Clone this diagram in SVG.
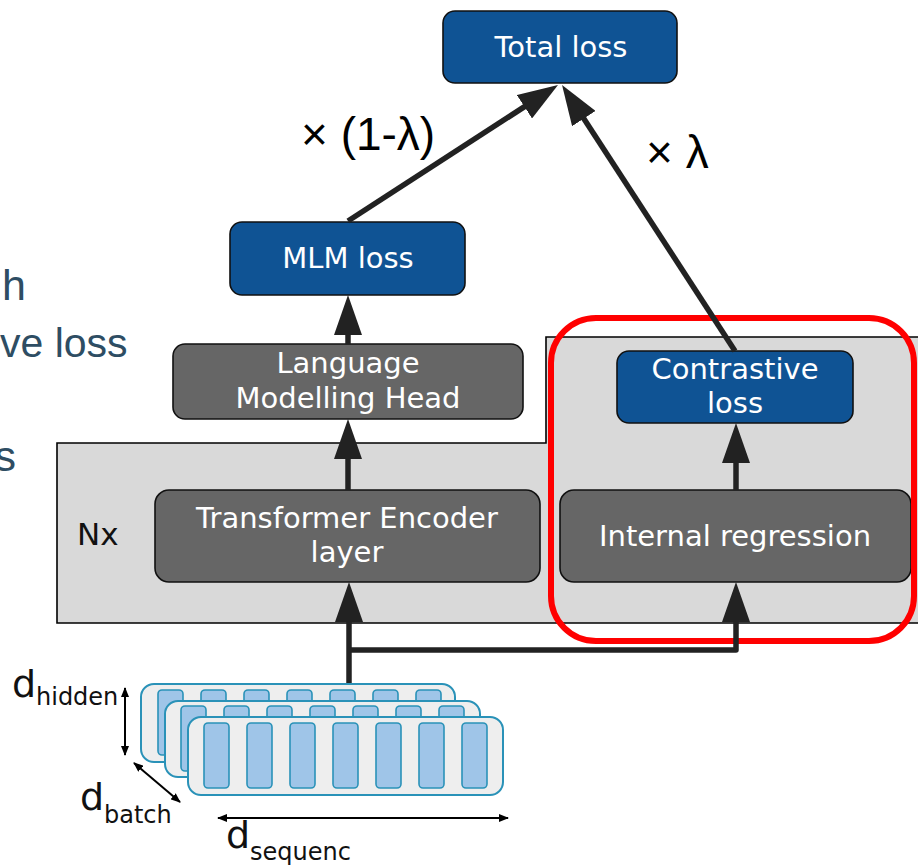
<svg xmlns="http://www.w3.org/2000/svg" width="918" height="868" viewBox="0 0 918 868">
<defs>
<style>
.blue{fill:#0f5394;stroke:#111;stroke-width:1.6}
.gray{fill:#666666;stroke:#111;stroke-width:1.6}
.lbl{font-family:"DejaVu Sans",sans-serif;font-size:29px;fill:#fff;text-anchor:middle}
.conn{fill:none;stroke:#222;stroke-width:5.5;stroke-linejoin:round}
.dim{fill:none;stroke:#000;stroke-width:2}
.t{fill:#eeeeee;stroke:#2a92b8;stroke-width:2}
.b{fill:#9fc5e8;stroke:#2a92b8;stroke-width:1.6}
.side{font-family:"Liberation Sans",Arial,sans-serif;font-size:43px;fill:#2e4d63}
.w{font-family:"Liberation Sans",Arial,sans-serif;font-size:46px;fill:#000}
.d{font-family:"DejaVu Sans",sans-serif;fill:#111}
</style>
<marker id="ah" viewBox="0 0 40 28" refX="30" refY="14" markerWidth="40" markerHeight="28" markerUnits="userSpaceOnUse" orient="auto">
<path d="M0,0 L40,14 L0,28 Z" fill="#222"/>
</marker>
<marker id="sa" viewBox="0 0 10 8" refX="9" refY="4" markerWidth="10" markerHeight="8" markerUnits="userSpaceOnUse" orient="auto-start-reverse">
<path d="M0,0 L10,4 L0,8 Z" fill="#000"/>
</marker>
</defs>

<text class="side" x="26" y="300" text-anchor="end">h</text>
<text class="side" x="0" y="357" style="font-size:41px">ve loss</text>
<text class="side" x="16" y="471" text-anchor="end">s</text>

<path id="panel" d="M57,443 H546 V337 H930 V623 H57 Z" fill="#d9d9d9" stroke="#000" stroke-width="1.6"/>
<text x="77" y="545" style="font-family:'DejaVu Sans',sans-serif;font-size:31px;fill:#111">Nx</text>

<g id="total-loss"><rect class="blue" x="443" y="11" width="234" height="72" rx="12"/><text class="lbl" x="561" y="57">Total loss</text></g>
<g id="mlm-loss"><rect class="blue" x="230" y="222" width="235" height="73" rx="12"/><text class="lbl" x="348" y="268">MLM loss</text></g>
<g id="lm-head"><rect class="gray" x="173" y="344" width="350" height="75" rx="12"/><text class="lbl" x="348" y="373">Language</text><text class="lbl" x="348" y="408">Modelling Head</text></g>
<g id="contrastive-loss"><rect class="blue" x="617" y="351" width="236" height="72" rx="12"/><text class="lbl" x="735" y="379">Contrastive</text><text class="lbl" x="735" y="413">loss</text></g>
<g id="transformer"><rect class="gray" x="155" y="490" width="385" height="92" rx="14"/><text class="lbl" x="347" y="528">Transformer Encoder</text><text class="lbl" x="347" y="562">layer</text></g>
<g id="internal-regression"><rect class="gray" x="560" y="490" width="351" height="92" rx="14"/><text class="lbl" x="735" y="546">Internal regression</text></g>

<rect id="highlight" x="551" y="318" width="363" height="323" rx="45" fill="none" stroke="#ff0000" stroke-width="6"/>

<g id="connectors">
<line class="conn" x1="348" y1="221" x2="549.6" y2="90.4" marker-end="url(#ah)"/>
<line class="conn" x1="735" y1="351" x2="567.5" y2="93.4" marker-end="url(#ah)"/>
<line class="conn" x1="348" y1="344" x2="348" y2="305" marker-end="url(#ah)"/>
<line class="conn" x1="348" y1="490" x2="348" y2="429" marker-end="url(#ah)"/>
<line class="conn" x1="349" y1="686" x2="349" y2="592" marker-end="url(#ah)"/>
<path class="conn" d="M349,650 H736 V592" marker-end="url(#ah)"/>
<line class="conn" x1="736" y1="490" x2="736" y2="433" marker-end="url(#ah)"/>
</g>

<g id="tensor">
<rect class="t" x="141" y="684" width="314" height="78" rx="13"/>
<rect class="b" x="158" y="690" width="25" height="65" rx="4"/><rect class="b" x="201" y="690" width="25" height="65" rx="4"/><rect class="b" x="244" y="690" width="25" height="65" rx="4"/><rect class="b" x="287" y="690" width="25" height="65" rx="4"/><rect class="b" x="330" y="690" width="25" height="65" rx="4"/><rect class="b" x="373" y="690" width="25" height="65" rx="4"/><rect class="b" x="416" y="690" width="25" height="65" rx="4"/>
<rect class="t" x="165" y="701" width="315" height="76" rx="13"/>
<rect class="b" x="181" y="706" width="25" height="65" rx="4"/><rect class="b" x="224" y="706" width="25" height="65" rx="4"/><rect class="b" x="267" y="706" width="25" height="65" rx="4"/><rect class="b" x="310" y="706" width="25" height="65" rx="4"/><rect class="b" x="353" y="706" width="25" height="65" rx="4"/><rect class="b" x="396" y="706" width="25" height="65" rx="4"/><rect class="b" x="439" y="706" width="25" height="65" rx="4"/>
<rect class="t" x="188" y="717" width="315" height="78" rx="13"/>
<rect class="b" x="204" y="723" width="25" height="65" rx="4"/><rect class="b" x="247" y="723" width="25" height="65" rx="4"/><rect class="b" x="290" y="723" width="25" height="65" rx="4"/><rect class="b" x="333" y="723" width="25" height="65" rx="4"/><rect class="b" x="376" y="723" width="25" height="65" rx="4"/><rect class="b" x="419" y="723" width="25" height="65" rx="4"/><rect class="b" x="462" y="723" width="25" height="65" rx="4"/>
</g>

<g id="dims">
<line class="dim" x1="125" y1="688" x2="125" y2="755" marker-start="url(#sa)" marker-end="url(#sa)"/>
<line class="dim" x1="134" y1="763" x2="180" y2="802" marker-start="url(#sa)" marker-end="url(#sa)"/>
<line class="dim" x1="218" y1="818" x2="508" y2="818" marker-start="url(#sa)" marker-end="url(#sa)"/>
<text class="d" x="12" y="697" font-size="38">d</text><text class="d" x="36" y="705" font-size="24">hidden</text>
<text class="d" x="80" y="810" font-size="38">d</text><text class="d" x="104" y="823" font-size="24">batch</text>
<text class="d" x="226" y="848" font-size="38">d</text><text class="d" x="250" y="860" font-size="24">sequenc</text>
</g>

<text class="w" x="301" y="150">× (1-λ)</text>
<text class="w" x="646" y="168">× λ</text>
</svg>
